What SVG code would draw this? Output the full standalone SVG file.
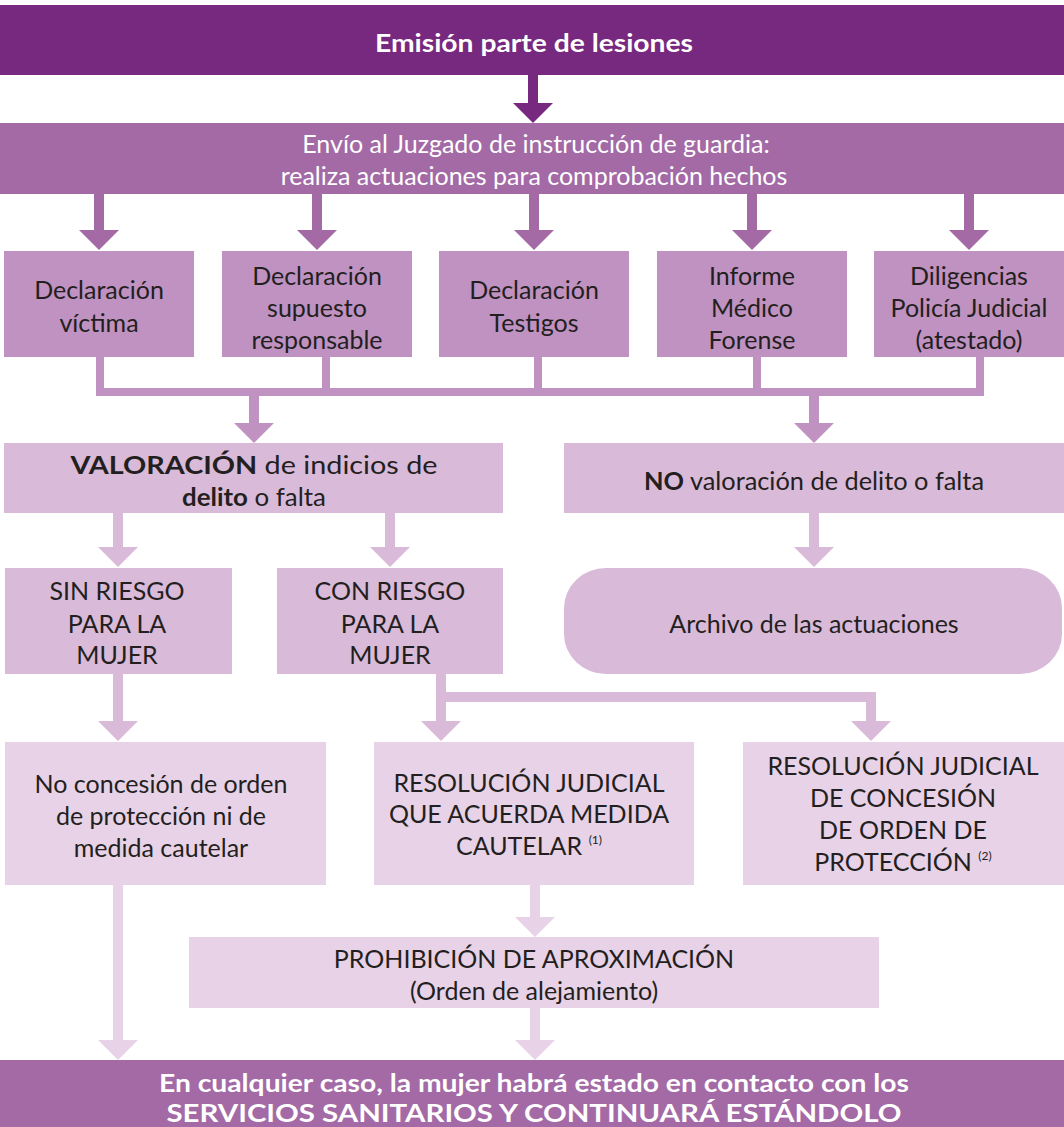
<svg xmlns="http://www.w3.org/2000/svg" width="1064" height="1127" viewBox="0 0 1064 1127">
<style>
text{font-family:Lato,"Open Sans","DejaVu Sans",sans-serif;font-size:25px;text-anchor:middle;dominant-baseline:central;fill:#231F20}
.w{fill:#fff}
.b{font-weight:bold}
.sup{font-size:12px}
.c1{stroke:#77287F}
.c2{stroke:#A36AA6}
.c3{stroke:#BF92C1}
.c4{stroke:#D9BAD8}
.c6{stroke:#E8D2E7}
.cn{fill:none;stroke-width:10}
</style>
<defs>
<marker id="a1" markerUnits="userSpaceOnUse" markerWidth="20" markerHeight="40" refX="0" refY="20" orient="auto" overflow="visible"><path d="M0,0L20,20L0,40z" fill="#77287F"/></marker>
<marker id="a2" markerUnits="userSpaceOnUse" markerWidth="20" markerHeight="40" refX="0" refY="20" orient="auto" overflow="visible"><path d="M0,0L20,20L0,40z" fill="#A36AA6"/></marker>
<marker id="a3" markerUnits="userSpaceOnUse" markerWidth="20" markerHeight="40" refX="0" refY="20" orient="auto" overflow="visible"><path d="M0,0L20,20L0,40z" fill="#BF92C1"/></marker>
<marker id="a4" markerUnits="userSpaceOnUse" markerWidth="20" markerHeight="40" refX="0" refY="20" orient="auto" overflow="visible"><path d="M0,0L20,20L0,40z" fill="#D9BAD8"/></marker>
<marker id="a6" markerUnits="userSpaceOnUse" markerWidth="20" markerHeight="40" refX="0" refY="20" orient="auto" overflow="visible"><path d="M0,0L20,20L0,40z" fill="#E8D2E7"/></marker>
</defs>
<rect width="1064" height="1127" fill="#fff"/>
<g id="connectors">
<path class="cn c1" d="M533,75V103" stroke-width="11" marker-end="url(#a1)"/>
<path class="cn c2" d="M99,194V230" marker-end="url(#a2)"/>
<path class="cn c2" d="M317,194V230" marker-end="url(#a2)"/>
<path class="cn c2" d="M534,194V230" marker-end="url(#a2)"/>
<path class="cn c2" d="M752,194V230" marker-end="url(#a2)"/>
<path class="cn c2" d="M969,194V230" marker-end="url(#a2)"/>
<path class="cn c3" style="stroke-width:8" d="M100,357V392M326,357V392M538,357V392M757,357V392M980,357V392M96,392H984"/>
<path class="cn c3" d="M254,392V423" marker-end="url(#a3)"/>
<path class="cn c3" d="M814,392V423" marker-end="url(#a3)"/>
<path class="cn c4" d="M118,513V547" marker-end="url(#a4)"/>
<path class="cn c4" d="M390,513V547" marker-end="url(#a4)"/>
<path class="cn c4" d="M814,513V547" marker-end="url(#a4)"/>
<path class="cn c4" d="M118,674V721" marker-end="url(#a4)"/>
<path class="cn c4" d="M441,674V721" marker-end="url(#a4)"/>
<path class="cn c4" d="M441,697H871V721" marker-end="url(#a4)"/>
<path class="cn c6" d="M118,885V1040" marker-end="url(#a6)"/>
<path class="cn c6" d="M535,885V917" marker-end="url(#a6)"/>
<path class="cn c6" d="M535,1008V1040" marker-end="url(#a6)"/>
</g>
<g id="n-emision">
<rect x="0" y="5" width="1064" height="70" fill="#77287F"/>
<text class="w b" x="534" y="42" textLength="318" lengthAdjust="spacingAndGlyphs">Emisión parte de lesiones</text>
</g>
<g id="n-envio">
<rect x="0" y="123" width="1064" height="71" fill="#A36AA6"/>
<text class="w" x="536" y="143">Envío al Juzgado de instrucción de guardia:</text>
<text class="w" x="534" y="175">realiza actuaciones para comprobación hechos</text>
</g>
<g id="n-victima">
<rect x="4" y="251" width="190" height="106" fill="#BF92C1"/>
<text x="99" y="289">Declaración</text>
<text x="99" y="322">víctima</text>
</g>
<g id="n-responsable">
<rect x="222" y="251" width="190" height="106" fill="#BF92C1"/>
<text x="317" y="275">Declaración</text>
<text x="317" y="307">supuesto</text>
<text x="317" y="339">responsable</text>
</g>
<g id="n-testigos">
<rect x="439" y="251" width="190" height="106" fill="#BF92C1"/>
<text x="534" y="289">Declaración</text>
<text x="534" y="322">Testigos</text>
</g>
<g id="n-forense">
<rect x="657" y="251" width="190" height="106" fill="#BF92C1"/>
<text x="752" y="275">Informe</text>
<text x="752" y="307">Médico</text>
<text x="752" y="339">Forense</text>
</g>
<g id="n-policia">
<rect x="874" y="251" width="190" height="106" fill="#BF92C1"/>
<text x="969" y="275">Diligencias</text>
<text x="969" y="307">Policía Judicial</text>
<text x="969" y="339">(atestado)</text>
</g>
<g id="n-valoracion">
<rect x="4" y="443" width="499" height="70" fill="#D9BAD8"/>
<text x="254" y="464" textLength="367" lengthAdjust="spacingAndGlyphs"><tspan class="b">VALORACIÓN</tspan> de indicios de</text>
<text x="254" y="496" textLength="144" lengthAdjust="spacingAndGlyphs"><tspan class="b">delito</tspan> o falta</text>
</g>
<g id="n-novaloracion">
<rect x="564" y="443" width="500" height="70" fill="#D9BAD8"/>
<text x="814" y="480" textLength="340" lengthAdjust="spacingAndGlyphs"><tspan class="b">NO</tspan> valoración de delito o falta</text>
</g>
<g id="n-sinriesgo">
<rect x="5" y="568" width="227" height="106" fill="#D9BAD8"/>
<text x="117" y="590">SIN RIESGO</text>
<text x="117" y="623">PARA LA</text>
<text x="117" y="654">MUJER</text>
</g>
<g id="n-conriesgo">
<rect x="277" y="568" width="226" height="106" fill="#D9BAD8"/>
<text x="390" y="590">CON RIESGO</text>
<text x="390" y="623">PARA LA</text>
<text x="390" y="654">MUJER</text>
</g>
<g id="n-archivo">
<rect x="564" y="568" width="498" height="106" rx="42" ry="40" fill="#D9BAD8"/>
<text x="814" y="623">Archivo de las actuaciones</text>
</g>
<g id="n-noconcesion">
<rect x="5" y="742" width="321" height="143" fill="#E8D2E7"/>
<text x="161" y="783">No concesión de orden</text>
<text x="161" y="815">de protección ni de</text>
<text x="161" y="847">medida cautelar</text>
</g>
<g id="n-medida">
<rect x="374" y="742" width="320" height="143" fill="#E8D2E7"/>
<text x="529" y="782">RESOLUCIÓN JUDICIAL</text>
<text x="529" y="813">QUE ACUERDA MEDIDA</text>
<text x="529" y="845">CAUTELAR <tspan class="sup" dy="-6">(1)</tspan></text>
</g>
<g id="n-orden">
<rect x="743" y="742" width="321" height="143" fill="#E8D2E7"/>
<text x="903" y="765">RESOLUCIÓN JUDICIAL</text>
<text x="903" y="797">DE CONCESIÓN</text>
<text x="903" y="829">DE ORDEN DE</text>
<text x="903" y="861">PROTECCIÓN <tspan class="sup" dy="-6">(2)</tspan></text>
</g>
<g id="n-prohibicion">
<rect x="189" y="937" width="690" height="71" fill="#E8D2E7"/>
<text x="534" y="958">PROHIBICIÓN DE APROXIMACIÓN</text>
<text x="534" y="990">(Orden de alejamiento)</text>
</g>
<g id="n-final">
<rect x="0" y="1060" width="1064" height="67" fill="#A36AA6"/>
<text class="w b" x="534" y="1082" textLength="750" lengthAdjust="spacingAndGlyphs">En cualquier caso, la mujer habrá estado en contacto con los</text>
<text class="w b" x="534" y="1112" textLength="735" lengthAdjust="spacingAndGlyphs">SERVICIOS SANITARIOS Y CONTINUARÁ ESTÁNDOLO</text>
</g>
</svg>
